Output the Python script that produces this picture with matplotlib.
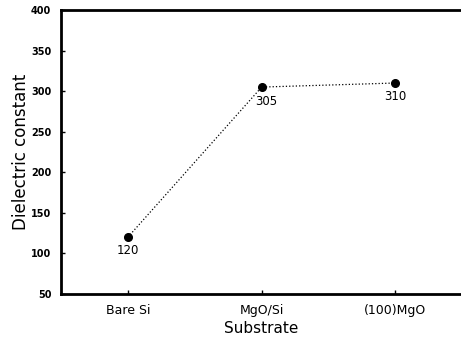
import matplotlib
matplotlib.use("Agg")
import matplotlib.pyplot as plt

substrates = ["Bare Si", "MgO/Si", "(100)MgO"]
dielectric = [120, 305, 310]
labels = ["120", "305", "310"]

fig = plt.figure(figsize=(4.61, 3.42), dpi=100)
ax = fig.add_axes([0.1323, 0.1404, 0.8677, 0.8304])

x = list(range(len(substrates)))
ax.plot(x, dielectric, color="black", linestyle=":", linewidth=0.9,
        marker="o", markersize=5.5, markerfacecolor="black")

offsets = [(0, -9.5), (3, -10.5), (0, -9.5)]
for xi, yi, lab, off in zip(x, dielectric, labels, offsets):
    ax.annotate(lab, (xi, yi), xytext=off, textcoords="offset points",
                ha="center", va="center", fontsize=8.5)

ax.set_xlim(-0.5, 2.49)
ax.set_ylim(50, 400)
ax.set_yticks(range(50, 401, 50))
ax.set_xticks(x)
ax.set_xticklabels(substrates, fontsize=9)
for t in ax.get_yticklabels():
    t.set_fontsize(7)
    t.set_fontweight("bold")
ax.tick_params(direction="in", length=3, width=1)
ax.tick_params(axis="x", pad=7)
ax.tick_params(axis="y", pad=7)
ax.set_xlabel("Substrate", fontsize=11, labelpad=3)
ax.set_ylabel("Dielectric constant", fontsize=12, labelpad=1)

ax.spines["right"].set_visible(False)
for s in ["left", "top", "bottom"]:
    ax.spines[s].set_linewidth(2)

fig.savefig("out.png", dpi=100)
